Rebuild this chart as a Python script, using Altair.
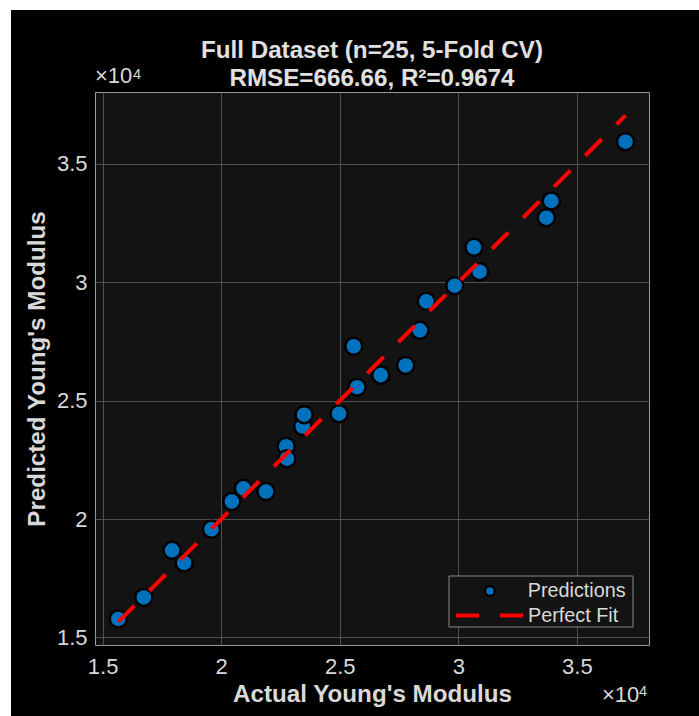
import altair as alt
import pandas as pd

# ---- data ----
actual = [15660, 16740, 17930, 18440, 19590, 20450, 20940, 21890, 22740, 22770,
          23440, 23500, 24970, 25730, 25590, 26730, 27780, 28380, 28650, 29850,
          30660, 30900, 33710, 33920, 37050]
predicted = [15780, 16690, 18680, 18150, 19570, 20740, 21300, 21160, 23080, 22550,
             23910, 24410, 24450, 25570, 27300, 26080, 26490, 27970, 29200, 29860,
             31480, 30450, 32730, 33440, 35940]
tick_values = [15000, 20000, 25000, 30000, 35000]
axis_domain = [14680, 38040]
series_names = ["Predictions", "Perfect Fit"]
title_lines = ["Full Dataset (n=25, 5-Fold CV)", "RMSE=666.66, R\u00b2=0.9674"]

fit_x = [min(actual), max(actual)]

W, H = 554, 553
PAD_L, PAD_T, PAD_R, PAD_B = 95, 92, 50, 71
FONT = "Liberation Sans"
TXT = "#d9d9d9"
PLOT_BG = "#131313"

pts = pd.DataFrame({"actual": actual, "predicted": predicted, "series": series_names[0]})
fit = pd.DataFrame({"actual": fit_x, "predicted": fit_x, "fit": series_names[1]})
one = pd.DataFrame({"k": [0]})

xs = alt.Scale(domain=axis_domain, nice=False, zero=False)
ys = alt.Scale(domain=axis_domain, nice=False, zero=False)

x_axis = alt.Axis(
    values=tick_values, labelExpr="'' + datum.value / 10000",
    title="Actual Young's Modulus", ticks=False, tickSize=0, domain=False,
    grid=True, gridColor="#505050", gridWidth=1,
    labelFont=FONT, labelFontSize=22, labelColor=TXT,
    labelBaseline="alphabetic", labelPadding=28,
    titleFont=FONT, titleFontSize=24.2, titleFontWeight="bold", titleColor=TXT,
    titleBaseline="alphabetic", titleY=56.5,
)
y_axis = alt.Axis(
    values=tick_values, labelExpr="'' + datum.value / 10000",
    title="Predicted Young's Modulus", ticks=False, tickSize=0, domain=False,
    grid=True, gridColor="#505050", gridWidth=1,
    labelFont=FONT, labelFontSize=22, labelColor=TXT, labelPadding=8,
    titleFont=FONT, titleFontSize=24.2, titleFontWeight="bold", titleColor=TXT,
    titleAngle=270, titleBaseline="alphabetic", titleAlign="center",
    titleX=-51, titleY=H / 2,
)

# white page strips at left/top of the figure
strip_left = alt.Chart(one).mark_rect(color="white").encode(
    x=alt.value(-PAD_L), x2=alt.value(11 - PAD_L),
    y=alt.value(-PAD_T), y2=alt.value(H + PAD_B))
strip_top = alt.Chart(one).mark_rect(color="white").encode(
    x=alt.value(-PAD_L), x2=alt.value(W + PAD_R),
    y=alt.value(-PAD_T), y2=alt.value(10 - PAD_T))

points = alt.Chart(pts).mark_point(
    filled=True, size=290, stroke="black", strokeWidth=2.5, opacity=1, fillOpacity=1
).encode(
    x=alt.X("actual:Q", scale=xs, axis=x_axis),
    y=alt.Y("predicted:Q", scale=ys, axis=y_axis),
    color=alt.Color("series:N",
                    scale=alt.Scale(domain=[series_names[0]], range=["#0072BD"]),
                    legend=alt.Legend(title=None, orient="none", legendX=385, legendY=489,
                                      padding=0, symbolType="circle", symbolSize=95,
                                      symbolStrokeColor="black", symbolStrokeWidth=2.3,
                                      labelFont=FONT, labelFontSize=19.8, labelColor=TXT,
                                      labelOffset=28)),
)

line = alt.Chart(fit).mark_line(color="#ff0000", strokeWidth=4, strokeCap="butt").encode(
    x=alt.X("actual:Q", scale=xs),
    y=alt.Y("predicted:Q", scale=ys),
    strokeDash=alt.StrokeDash("fit:N",
                              scale=alt.Scale(domain=[series_names[1]], range=[[23, 21]]),
                              legend=alt.Legend(title=None, orient="none", legendX=359, legendY=488,
                                                padding=0, symbolType="stroke", symbolSize=4489,
                                                symbolStrokeColor="#ff0000", symbolStrokeWidth=4,
                                                labelFont=FONT, labelFontSize=19.8, labelColor=TXT,
                                                labelOffset=3)),
)

legend_box = alt.Chart(one).mark_rect(fill=PLOT_BG, stroke="#8a8a8a", strokeWidth=1).encode(
    x=alt.value(449 - PAD_L), x2=alt.value(633 - PAD_L),
    y=alt.value(576 - PAD_T), y2=alt.value(627 - PAD_T))

exp_tl = alt.Chart(one).mark_text(text="\u00d710", font=FONT, fontSize=22, color=TXT,
                                  align="left", baseline="alphabetic").encode(
    x=alt.value(0), y=alt.value(83 - PAD_T))
exp_tl4 = alt.Chart(one).mark_text(text="4", font=FONT, fontSize=14.5, color=TXT,
                                   align="left", baseline="alphabetic").encode(
    x=alt.value(38), y=alt.value(79 - PAD_T))
exp_br = alt.Chart(one).mark_text(text="\u00d710", font=FONT, fontSize=22, color=TXT,
                                  align="left", baseline="alphabetic").encode(
    x=alt.value(602 - PAD_L), y=alt.value(702 - PAD_T))
exp_br4 = alt.Chart(one).mark_text(text="4", font=FONT, fontSize=14.5, color=TXT,
                                   align="left", baseline="alphabetic").encode(
    x=alt.value(639 - PAD_L), y=alt.value(696 - PAD_T))

chart = alt.layer(
    strip_left, strip_top, points, line, legend_box, exp_tl, exp_tl4, exp_br, exp_br4
).resolve_legend(color="independent", strokeDash="independent").properties(
    width=W, height=H,
    title=alt.TitleParams(title_lines, font=FONT, fontSize=24.2, fontWeight="bold",
                          color="#e0e0e0", anchor="middle", frame="group",
                          baseline="alphabetic", offset=0, dy=110, lineHeight=28.3),
    autosize=alt.AutoSizeParams(type="none"),
    padding={"left": PAD_L, "top": PAD_T, "right": PAD_R, "bottom": PAD_B},
    background="#000000",
).configure_view(
    fill=PLOT_BG, stroke="#999999", strokeWidth=1
)

chart.save("out.html", embed_options={"renderer": "svg", "actions": False})
